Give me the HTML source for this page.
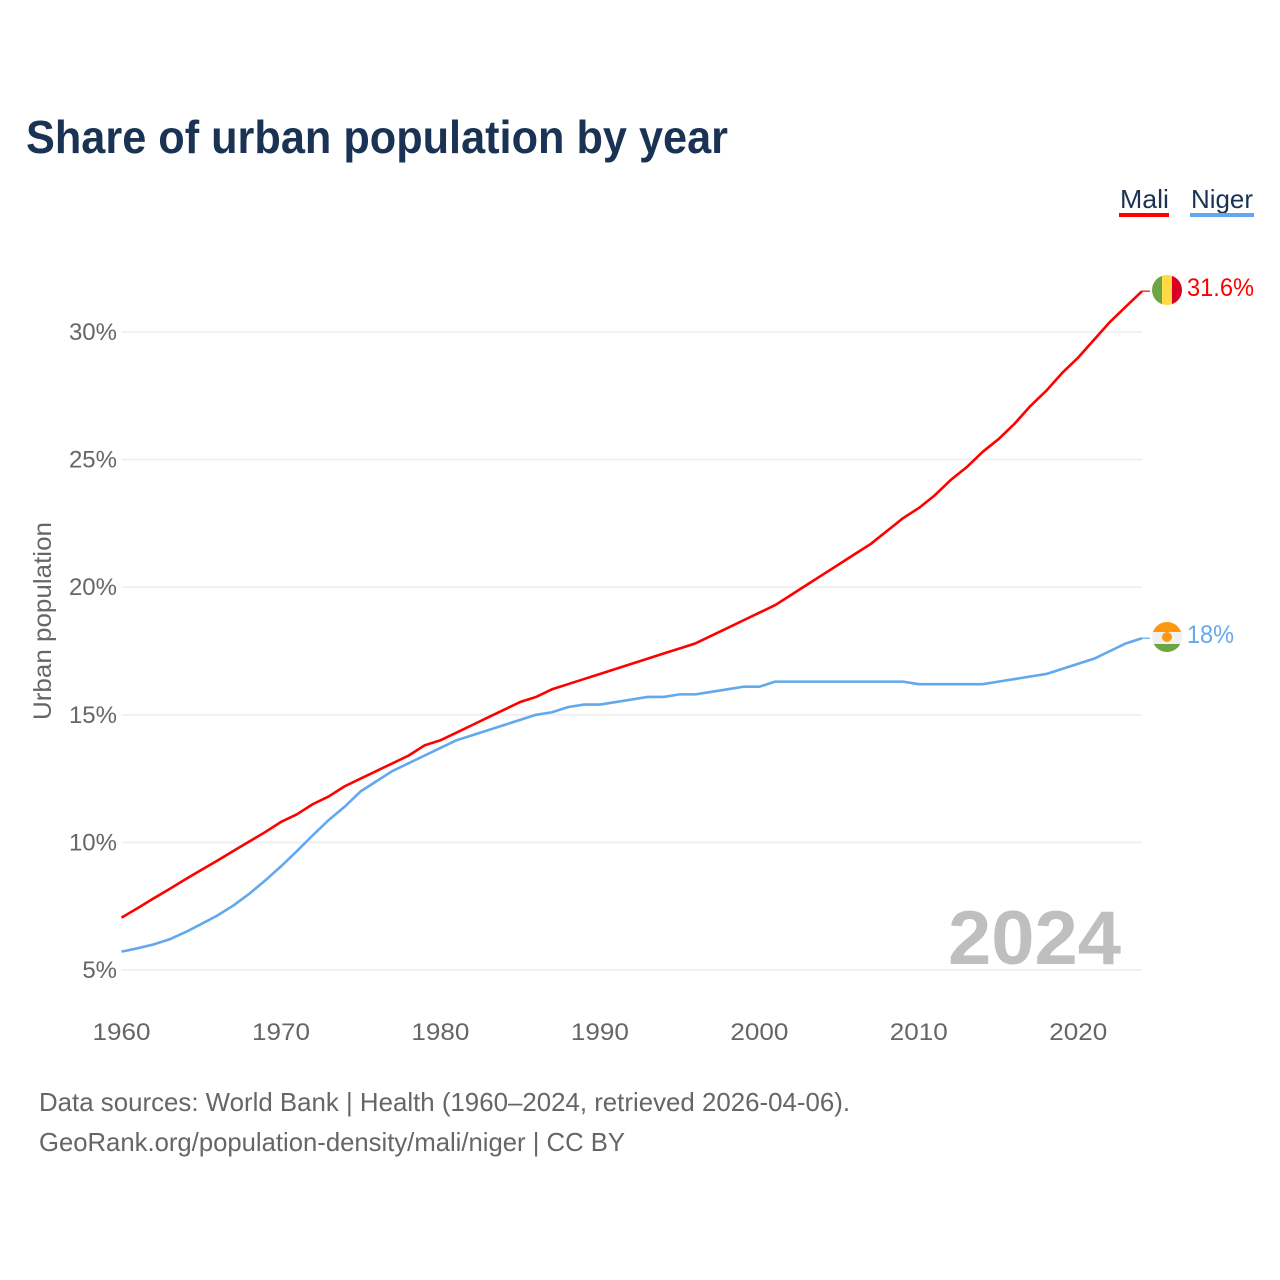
<!DOCTYPE html>
<html lang="en">
<head>
<meta charset="utf-8">
<title>Share of urban population by year</title>
<style>
html,body{margin:0;padding:0;background:#fff;width:1280px;height:1280px;overflow:hidden}
svg{display:block;font-family:"Liberation Sans",sans-serif}
</style>
</head>
<body>
<svg id="chart" width="1280" height="1280" viewBox="0 0 1280 1280">
  <text x="26" y="153" font-size="46" font-weight="700" fill="#1a3354" textLength="702" lengthAdjust="spacingAndGlyphs">Share of urban population by year</text>

  <g id="grid"></g>
  <g id="yticks"></g>
  <g id="xticks"></g>
  <text transform="translate(51,621) rotate(-90)" text-anchor="middle" font-size="25" fill="#666" textLength="198" lengthAdjust="spacingAndGlyphs">Urban population</text>

  <text x="948" y="964" font-size="76" font-weight="700" fill="#bfbfbf" textLength="173" lengthAdjust="spacingAndGlyphs">2024</text>

  <g id="series"></g>

  <g>
    <text x="1120" y="208" font-size="26" fill="#1a3354" textLength="49" lengthAdjust="spacingAndGlyphs">Mali</text>
    <rect x="1119" y="213" width="50" height="4" fill="#ff0000"/>
  </g>
  <g>
    <text x="1191" y="208" font-size="26" fill="#1a3354" textLength="62" lengthAdjust="spacingAndGlyphs">Niger</text>
    <rect x="1190" y="213" width="64" height="4" fill="#62a8ec"/>
  </g>

  <defs>
    <clipPath id="flagMali"><circle cx="1167" cy="290" r="15"/></clipPath>
    <clipPath id="flagNiger"><circle cx="1167" cy="637" r="15"/></clipPath>
  </defs>
  <g clip-path="url(#flagMali)">
    <rect x="1152" y="275" width="10" height="30" fill="#6da544"/>
    <rect x="1162" y="275" width="10" height="30" fill="#ffda44"/>
    <rect x="1172" y="275" width="10" height="30" fill="#d80027"/>
  </g>
  <g clip-path="url(#flagNiger)">
    <rect x="1152" y="622" width="30" height="10" fill="#ff9811"/>
    <rect x="1152" y="632" width="30" height="12" fill="#f0f0f0"/>
    <rect x="1152" y="644" width="30" height="8" fill="#6da544"/>
    <circle cx="1167" cy="637" r="5" fill="#ff9811"/>
  </g>
  <text x="1187" y="296" font-size="25" fill="#ff0000" textLength="67" lengthAdjust="spacingAndGlyphs">31.6%</text>
  <text x="1187" y="643" font-size="25" fill="#62a8ec" textLength="47" lengthAdjust="spacingAndGlyphs">18%</text>

  <text x="39" y="1111" font-size="26" fill="#666" textLength="811" lengthAdjust="spacingAndGlyphs">Data sources: World Bank | Health (1960–2024, retrieved 2026-04-06).</text>
  <text x="39" y="1151" font-size="26" fill="#666" textLength="586" lengthAdjust="spacingAndGlyphs">GeoRank.org/population-density/mali/niger | CC BY</text>
</svg>
<script>
const startYear = 1960;
const endYear = 2024;
const maliValues = [7.05,7.42,7.8,8.17,8.55,8.92,9.28,9.66,10.03,10.4,10.8,11.1,11.5,11.8,12.2,12.5,12.8,13.1,13.4,13.8,14.0,14.3,14.6,14.9,15.2,15.5,15.7,16.0,16.2,16.4,16.6,16.8,17.0,17.2,17.4,17.6,17.8,18.1,18.4,18.7,19.0,19.3,19.7,20.1,20.5,20.9,21.3,21.7,22.2,22.7,23.1,23.6,24.2,24.7,25.3,25.8,26.4,27.1,27.7,28.4,29.0,29.7,30.4,31.0,31.6];
const nigerValues = [5.72,5.85,6.0,6.2,6.48,6.8,7.13,7.52,7.98,8.5,9.06,9.66,10.28,10.88,11.4,12.0,12.4,12.8,13.1,13.4,13.7,14.0,14.2,14.4,14.6,14.8,15.0,15.1,15.3,15.4,15.4,15.5,15.6,15.7,15.7,15.8,15.8,15.9,16.0,16.1,16.1,16.3,16.3,16.3,16.3,16.3,16.3,16.3,16.3,16.3,16.2,16.2,16.2,16.2,16.2,16.3,16.4,16.5,16.6,16.8,17.0,17.2,17.5,17.8,18.0];
const yTickValues = [5,10,15,20,25,30];
const xTickValues = [1960,1970,1980,1990,2000,2010,2020];

const NS = 'http://www.w3.org/2000/svg';
const xLeft = 121.5, xRight = 1142, yFive = 970, yThirty = 332;
function xScale(year){ return xLeft + (year - startYear) * (xRight - xLeft) / (endYear - startYear); }
function yScale(v){ return yFive + (v - 5) * (yThirty - yFive) / 25; }

const grid = document.getElementById('grid');
const yticks = document.getElementById('yticks');
const xticks = document.getElementById('xticks');
const series = document.getElementById('series');

yTickValues.forEach(function(v){
  const line = document.createElementNS(NS, 'line');
  line.setAttribute('x1', xLeft);
  line.setAttribute('x2', xRight);
  line.setAttribute('y1', yScale(v));
  line.setAttribute('y2', yScale(v));
  line.setAttribute('stroke', '#eeeeee');
  line.setAttribute('stroke-width', '1.6');
  
  
  grid.appendChild(line);

  const t = document.createElementNS(NS, 'text');
  t.setAttribute('x', 117);
  t.setAttribute('y', yScale(v) + 8);
  t.setAttribute('text-anchor', 'end');
  t.setAttribute('font-size', '24');
  t.setAttribute('fill', '#666');
  
  
  t.textContent = v + '%';
  yticks.appendChild(t);
});

xTickValues.forEach(function(y){
  const t = document.createElementNS(NS, 'text');
  t.setAttribute('x', xScale(y));
  t.setAttribute('y', 1040);
  t.setAttribute('text-anchor', 'middle');
  t.setAttribute('font-size', '24');
  t.setAttribute('textLength', '58');
  t.setAttribute('lengthAdjust', 'spacingAndGlyphs');
  t.setAttribute('fill', '#666');
  
  
  t.textContent = y;
  xticks.appendChild(t);
});

function pathFor(values){
  let d = '';
  values.forEach(function(v, i){
    d += (i ? 'L' : 'M') + xScale(startYear + i).toFixed(2) + ' ' + yScale(v).toFixed(2);
  });
  return d;
}

const niger = document.createElementNS(NS, 'path');
niger.setAttribute('d', pathFor(nigerValues));
niger.setAttribute('fill', 'none');
niger.setAttribute('stroke', '#62a8ec');
niger.setAttribute('stroke-width', '2.6');
niger.setAttribute('stroke-linejoin', 'round');


series.appendChild(niger);

const mali = document.createElementNS(NS, 'path');
mali.setAttribute('d', pathFor(maliValues));
mali.setAttribute('fill', 'none');
mali.setAttribute('stroke', '#ff0000');
mali.setAttribute('stroke-width', '2.6');
mali.setAttribute('stroke-linejoin', 'round');


series.appendChild(mali);

const maliLead = document.createElementNS(NS, 'line');
maliLead.setAttribute('x1', xRight);
maliLead.setAttribute('x2', xRight + 8);
maliLead.setAttribute('y1', yScale(maliValues[maliValues.length - 1]));
maliLead.setAttribute('y2', yScale(maliValues[maliValues.length - 1]));
maliLead.setAttribute('stroke', '#ff0000');
maliLead.setAttribute('stroke-width', '1.2');


series.appendChild(maliLead);

const nigerLead = document.createElementNS(NS, 'line');
nigerLead.setAttribute('x1', xRight);
nigerLead.setAttribute('x2', xRight + 8);
nigerLead.setAttribute('y1', yScale(nigerValues[nigerValues.length - 1]));
nigerLead.setAttribute('y2', yScale(nigerValues[nigerValues.length - 1]));
nigerLead.setAttribute('stroke', '#62a8ec');
nigerLead.setAttribute('stroke-width', '1.2');


series.appendChild(nigerLead);
</script>
</body>
</html>
